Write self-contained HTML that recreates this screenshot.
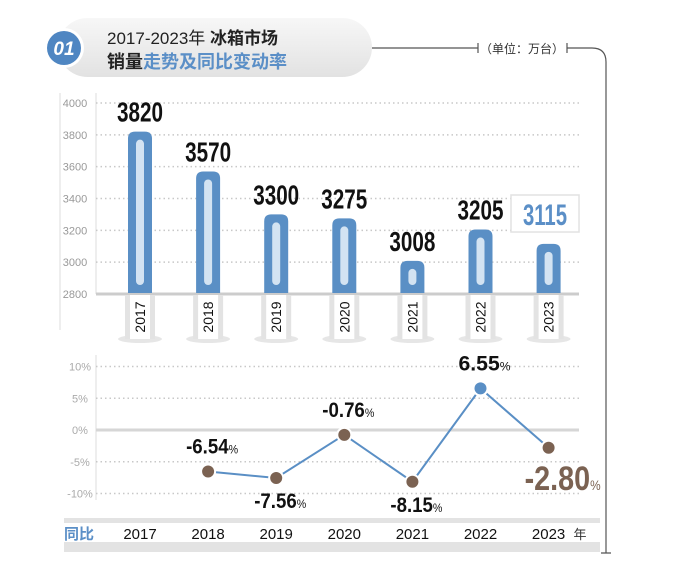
<!DOCTYPE html>
<html><head><meta charset="utf-8"><style>
html,body{margin:0;padding:0;background:#fff;}
svg{display:block;}
text{font-family:"Liberation Sans","Noto Sans CJK SC",sans-serif;}
.num{font-family:"Liberation Sans Narrow","Liberation Sans","Noto Sans CJK SC",sans-serif;font-weight:bold;}
</style></head><body>
<svg id="chart" width="679" height="575" viewBox="0 0 679 575">
<defs>
<linearGradient id="pill" x1="0" y1="0" x2="0" y2="1"><stop offset="0" stop-color="#f7f7f7"/><stop offset="1" stop-color="#e2e2e2"/></linearGradient>
</defs>
<g>
<rect x="58" y="18" width="314" height="59" rx="29.5" fill="url(#pill)"/>
<circle cx="64" cy="48" r="20" fill="#fff"/>
<circle cx="64" cy="48" r="17" fill="#4f86c2"/>
<text x="64" y="55" text-anchor="middle" font-size="19" font-weight="bold" font-style="italic" fill="#fff">01</text>
<text x="107" y="44" font-size="17" fill="#222">2017-2023年 <tspan font-weight="bold">冰箱市场</tspan></text>
<text x="107" y="68" font-size="18" font-weight="bold" fill="#222">销量<tspan fill="#5b8fc7">走势及同比变动率</tspan></text>
<path d="M372 48 H478 M478 43 V53 M567 43 V53 M567 48 H592 Q606 48 606 62 V553 M601 553 H611" stroke="#555" stroke-width="1.2" fill="none"/>
<text x="522" y="53" text-anchor="middle" font-size="12" fill="#333">（单位：万台）</text>
</g>
<line x1="60" y1="93" x2="60" y2="330" stroke="#ddd" stroke-width="1"/>
<line x1="96" y1="93" x2="96" y2="294" stroke="#ddd" stroke-width="1"/>
<line x1="96" y1="355" x2="96" y2="500" stroke="#ddd" stroke-width="1"/>
<g>
<rect x="64" y="518" width="536" height="34" fill="#e3e3e3"/>
<rect x="64" y="523" width="536" height="19" fill="#fff"/>
<text x="79" y="539" text-anchor="middle" font-size="15" font-weight="bold" fill="#5b8fc7">同比</text>
<text x="580" y="539" text-anchor="middle" font-size="13" fill="#333">年</text>
</g>
<g id="top"></g>
<g id="bottom"></g>
</svg>
<script>
const years=["2017","2018","2019","2020","2021","2022","2023"];
const sales=[3820,3570,3300,3275,3008,3205,3115];
const salesTicks=[4000,3800,3600,3400,3200,3000,2800];
const yoy=[null,-6.54,-7.56,-0.76,-8.15,6.55,-2.80];
const yoyTicks=[10,5,0,-5,-10];
const yoyTickLabels=["10%","5%","0%","-5%","-10%"];
const NS="http://www.w3.org/2000/svg";
function el(tag,attrs,parent,txt){const e=document.createElementNS(NS,tag);for(const k in attrs)e.setAttribute(k,attrs[k]);if(txt!==undefined)e.textContent=txt;parent.appendChild(e);return e;}
const xC=i=>140+i*68.1;
const yS=v=>294-(v-2800)*(191/1200);
const yP=v=>430-v*6.35;
const topG=document.getElementById('top');
salesTicks.forEach(t=>{
 const l=el('line',{x1:96,x2:579,y1:yS(t),y2:yS(t),stroke:t===2800?'#ccc':'#c8c8c8','stroke-width':t===2800?3:1.5,'stroke-dasharray':t===2800?'':'1.5 3'},topG);
 
 
 const tx=el('text',{x:75,y:yS(t)+4,'text-anchor':'middle','font-size':11,fill:'#999'},topG,String(t));
 
 
});
years.forEach((y,i)=>{
 const x=xC(i);
 const sh=el('ellipse',{cx:x,cy:339,rx:22,ry:4,fill:'#e6e6e6'},topG);
 
 
 const gb=el('rect',{x:x-15,y:295,width:30,height:44,fill:'#e3e3e3'},topG);
 
 
 el('rect',{x:x-10,y:295,width:20,height:44,fill:'#fff'},topG);
 const yl=el('text',{x:0,y:0,'text-anchor':'middle','font-size':14,fill:'#111',transform:`translate(${x+5},317) rotate(-90)`},topG,y);
 
 
 const t=yS(sales[i]);
 const b=el('path',{d:`M${x-12} 293 V${t+7} Q${x-12} ${t} ${x-5} ${t} H${x+5} Q${x+12} ${t} ${x+12} ${t+7} V293 Z`,fill:'#5a8fc5'},topG);
 
 
 const ih=Math.max(293-8-(t+8),6);
 const ins=el('rect',{x:x-4,y:t+8,width:8,height:ih,rx:4,fill:'#d3e3f2'},topG);
 
 
 if(i===6){
  const bx=el('rect',{x:511,y:195,width:68,height:37,fill:'#fff',stroke:'#e2e2e2','stroke-width':1.5},topG);
  
  
  const v=el('text',{x:523,y:225,'font-size':30,fill:'#5b8fc7',class:'num','font-weight':'normal',textLength:44,lengthAdjust:'spacingAndGlyphs'},topG,String(sales[i]));
  
  
 } else {
  const v=el('text',{x:x-23,y:t-10,'font-size':28,fill:'#111',class:'num',textLength:46,lengthAdjust:'spacingAndGlyphs'},topG,String(sales[i]));
  
  
 }
});
const botG=document.getElementById('bottom');
yoyTicks.forEach((t,k)=>{
 const l=el('line',{x1:96,x2:579,y1:yP(t),y2:yP(t),stroke:t===0?'#d6d6d6':'#c8c8c8','stroke-width':t===0?3:1.5,'stroke-dasharray':t===0?'':'1.5 3'},botG);
 
 
 const tx=el('text',{x:80,y:yP(t)+4,'text-anchor':'middle','font-size':11,fill:'#aaa'},botG,yoyTickLabels[k]);
 
 
});
let d='';
yoy.forEach((v,i)=>{if(v===null)return;d+=(d?'L':'M')+xC(i)+' '+yP(v)+' ';});
const ln=el('path',{d:d,fill:'none',stroke:'#5a8fc5','stroke-width':2},botG);


years.forEach((y,i)=>{
 const v=yoy[i];
 const x=xC(i);
 const yl=el('text',{x:x,y:539,'text-anchor':'middle','font-size':15,fill:'#111'},botG,y);
 
 
 if(v===null)return;
 const py=yP(v);
 const c=el('circle',{cx:x,cy:py,r:7,fill:v>0?'#5a8fc5':'#7b6252',stroke:'#fff','stroke-width':2},botG);
 
 
 const above=(i===1||i===3||i===5);
 const big=(i===6);
 const ly=big?py+42:(above?py-18:py+30);
 const w=big?76:52;
 const lx=big?x-24:x-w/2+4;
 const t=el('text',{x:lx,y:ly,'font-size':big?34:21,fill:big?'#7b6252':'#111',class:'num','font-weight':big?'normal':'bold',textLength:w,lengthAdjust:'spacingAndGlyphs'},botG);
 
 
 t.appendChild(document.createTextNode(v.toFixed(2)));
 const sp=document.createElementNS(NS,'tspan');
 sp.setAttribute('font-size',big?14:12);
 sp.setAttribute('font-weight','normal');
 sp.textContent='%';
 t.appendChild(sp);
});
</script>
</body></html>
